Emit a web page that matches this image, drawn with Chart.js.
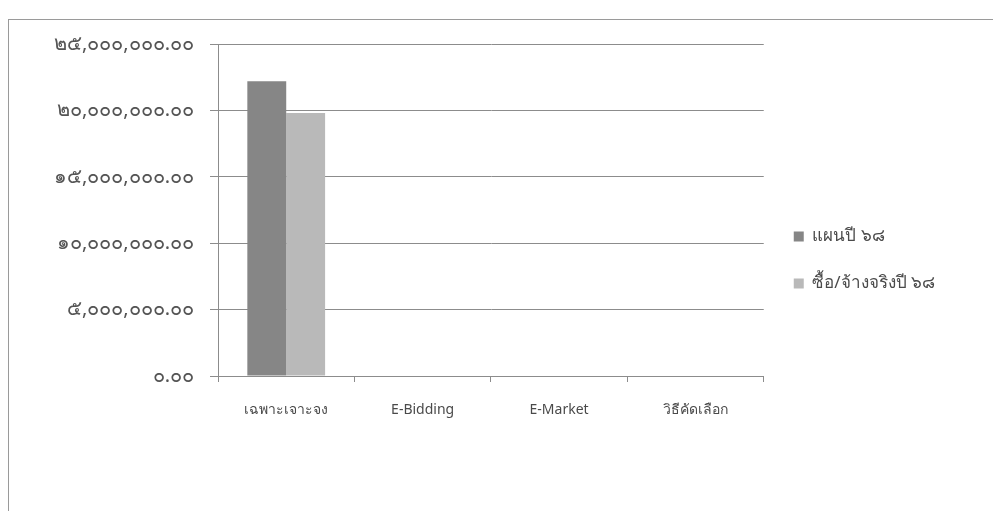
<!DOCTYPE html>
<html>
<head>
<meta charset="utf-8">
<script src="https://cdn.jsdelivr.net/npm/chart.js@4.4.0/dist/chart.umd.min.js"></script>
<style>
  html, body { margin: 0; padding: 0; background: #ffffff; }
  #wrap { position: relative; width: 993px; height: 511px; overflow: hidden; }
  #frame {
    position: absolute; left: 8px; top: 19px; width: 1100px; height: 600px;
    border-left: 1px solid #9a9a9a; border-top: 1px solid #9a9a9a;
  }
  canvas { position: absolute; left: 0; top: 0; }
</style>
</head>
<body>
<div id="wrap">
  <div id="frame"></div>
  <canvas id="chart" width="993" height="511"></canvas>
</div>
<script>
// Purchase methods
const CATEGORIES = ["เฉพาะเจาะจง", "E-Bidding", "E-Market", "วิธีคัดเลือก"];

// Series (baht)
const PLAN_68 = [22200000, 0, 0, 0];
const ACTUAL_68 = [19800000, 0, 0, 0];

const SERIES_NAMES = ["แผนปี ๖๘", "ซื้อ/จ้างจริงปี ๖๘"];

// Y axis ticks
const Y_MAX = 25000000;
const Y_STEP = 5000000;

const THAI_DIGITS = ["๐", "๑", "๒", "๓", "๔", "๕", "๖", "๗", "๘", "๙"];

function toThaiDigits(str) {
  return str.replace(/[0-9]/g, (d) => THAI_DIGITS[+d]);
}

function formatBaht(v) {
  const s = Number(v).toLocaleString("en-US", {
    minimumFractionDigits: 2,
    maximumFractionDigits: 2
  });
  return toThaiDigits(s);
}

const TEXT = "#4a4a4a";
const GRID = "#8c8c8c";
const FONT = "Tahoma, 'Noto Sans', 'DejaVu Sans', sans-serif";

const ctx = document.getElementById("chart").getContext("2d");

new Chart(ctx, {
  type: "bar",
  data: {
    labels: CATEGORIES,
    datasets: [
      {
        label: SERIES_NAMES[0],
        data: PLAN_68,
        backgroundColor: "#868686",
        borderWidth: 0
      },
      {
        label: SERIES_NAMES[1],
        data: ACTUAL_68,
        backgroundColor: "#b9b9b9",
        borderWidth: 0
      }
    ]
  },
  options: {
    responsive: false,
    animation: false,
    devicePixelRatio: 1,
    layout: {
      padding: { top: 44, left: 20, right: 48, bottom: 35 }
    },
    datasets: {
      bar: { categoryPercentage: 0.57, barPercentage: 1.0 }
    },
    scales: {
      x: {
        afterFit: (scale) => { scale.height = 100; },
        grid: {
          offset: true,
          drawOnChartArea: false,
          drawTicks: true,
          tickLength: 6,
          color: GRID
        },
        border: { color: GRID, width: 1 },
        ticks: {
          color: TEXT,
          padding: 20,
          font: { family: FONT, size: 14 }
        }
      },
      y: {
        min: 0,
        max: Y_MAX,
        afterFit: (scale) => { scale.width = 198; },
        grid: {
          color: GRID,
          drawTicks: true,
          tickLength: 8
        },
        border: { color: GRID, width: 1 },
        ticks: {
          stepSize: Y_STEP,
          color: "#555555",
          padding: 16,
          font: { family: FONT, size: 20 },
          callback: (v) => formatBaht(v)
        }
      }
    },
    plugins: {
      legend: {
        position: "right",
        align: "center",
        labels: {
          boxWidth: 10,
          boxHeight: 10,
          padding: 30,
          color: TEXT,
          font: { family: FONT, size: 17 }
        }
      },
      tooltip: { enabled: false }
    }
  }
});
</script>
</body>
</html>
